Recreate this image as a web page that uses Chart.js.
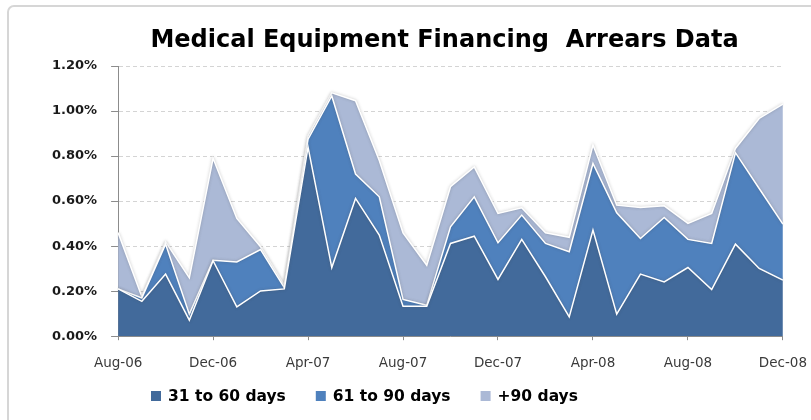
<!DOCTYPE html>
<html>
<head>
<meta charset="utf-8">
<script src="https://cdn.jsdelivr.net/npm/chart.js@4"></script>
<style>
  html, body { margin: 0; padding: 0; background: #ffffff; overflow: hidden; }
  #c { display: block; }
</style>
</head>
<body>
<canvas id="c" width="811" height="420"></canvas>
<script>
const chartTitle = 'Medical Equipment Financing  Arrears Data';

const months = [
  'Aug-06','Sep-06','Oct-06','Nov-06','Dec-06','Jan-07','Feb-07','Mar-07',
  'Apr-07','May-07','Jun-07','Jul-07','Aug-07','Sep-07','Oct-07','Nov-07',
  'Dec-07','Jan-08','Feb-08','Mar-08','Apr-08','May-08','Jun-08','Jul-08',
  'Aug-08','Sep-08','Oct-08','Nov-08','Dec-08'
];

const seriesNames = ['31 to 60 days', '61 to 90 days', '+90 days'];

// values in percent
const days31to60 = [0.21,0.155,0.276,0.071,0.335,0.13,0.201,0.21,0.84,0.305,0.612,0.449,0.133,0.133,0.412,0.444,0.252,0.43,0.264,0.086,0.471,0.098,0.276,0.241,0.305,0.207,0.409,0.301,0.249];
const days61to90 = [0.0,0.015,0.133,0.027,0.002,0.2,0.184,0.006,0.035,0.762,0.108,0.17,0.03,0.004,0.074,0.175,0.163,0.108,0.148,0.289,0.296,0.45,0.158,0.286,0.125,0.205,0.406,0.355,0.249];
const days90plus = [0.25,0.005,0.01,0.161,0.453,0.193,0.012,0.011,0.015,0.014,0.326,0.161,0.296,0.178,0.178,0.133,0.13,0.032,0.047,0.064,0.082,0.034,0.138,0.052,0.071,0.133,0.019,0.311,0.533];

const yTicks = [0, 0.2, 0.4, 0.6, 0.8, 1.0, 1.2];

const colors = ['#426a9b', '#4f81bd', '#abb9d6'];

const textPlugin = {
  id: 'textPlugin',
  beforeDraw(chart) {
    // outer chart frame (only top and left edges are inside the picture)
    const ctx = chart.ctx;
    ctx.save();
    ctx.fillStyle = '#ffffff';
    ctx.fillRect(0, 0, chart.width, chart.height);
    ctx.strokeStyle = '#d6d6d6';
    ctx.lineWidth = 2;
    ctx.beginPath();
    ctx.moveTo(8, chart.height + 2);
    ctx.lineTo(8, 13);
    ctx.arcTo(8, 6, 15, 6, 6);
    ctx.lineTo(chart.width + 2, 6);
    ctx.stroke();
    ctx.restore();
  },
  beforeDatasetDraw(chart) {
    const ctx = chart.ctx;
    ctx.save();
    ctx.shadowColor = 'rgba(70,70,70,0.35)';
    ctx.shadowBlur = 3;
  },
  afterDatasetDraw(chart) {
    chart.ctx.restore();
  },
  afterDraw(chart) {
    const ctx = chart.ctx;
    ctx.save();
    // title
    ctx.fillStyle = '#000000';
    ctx.font = 'bold 24px "DejaVu Sans"';
    ctx.textAlign = 'center';
    ctx.textBaseline = 'alphabetic';
    const ca = chart.chartArea;
    ctx.fillText(chartTitle, (ca.left + ca.right) / 2 - 6, 47);
    // legend
    ctx.font = 'bold 15.5px "DejaVu Sans"';
    ctx.textAlign = 'left';
    ctx.textBaseline = 'middle';
    let x = 151;
    const yc = 396;
    chart.data.datasets.forEach((ds) => {
      ctx.fillStyle = ds.backgroundColor;
      ctx.fillRect(x, yc - 5, 10, 10);
      ctx.fillStyle = '#000000';
      ctx.fillText(ds.label, x + 17, yc + 1);
      x += 17 + ctx.measureText(ds.label).width + 30;
    });
    ctx.restore();
  }
};

const tickCol = (c) => (c.index % 4 === 0 ? '#8c8c8c' : 'rgba(0,0,0,0)');

new Chart(document.getElementById('c'), {
  type: 'line',
  data: {
    labels: months,
    datasets: [
      { label: seriesNames[0], data: days31to60, backgroundColor: colors[0], fill: 'origin' },
      { label: seriesNames[1], data: days61to90, backgroundColor: colors[1], fill: '-1' },
      { label: seriesNames[2], data: days90plus, backgroundColor: colors[2], fill: '-1' }
    ]
  },
  options: {
    responsive: false,
    animation: false,
    devicePixelRatio: 1,
    layout: { padding: { left: 38, right: 28, top: 66, bottom: 34 } },
    elements: {
      point: { radius: 0, hoverRadius: 0 },
      line: { borderColor: '#ffffff', borderWidth: 1.5, tension: 0 }
    },
    plugins: {
      legend: { display: false },
      title: { display: false },
      tooltip: { enabled: false }
    },
    scales: {
      x: {
        offset: false,
        border: { display: true, color: '#8c8c8c' },
        grid: { drawOnChartArea: false, drawTicks: true, tickLength: 4, color: tickCol, tickColor: tickCol },
        ticks: {
          autoSkip: false, maxRotation: 0, minRotation: 0, padding: 4,
          color: '#3a3a3a',
          font: { family: '"DejaVu Sans"', size: 13.5, lineHeight: 2.8 },
          callback: function (v, i) { return i % 4 === 0 ? this.getLabelForValue(v) : ''; }
        }
      },
      y: {
        stacked: true,
        min: 0, max: 1.2,
        afterBuildTicks: (s) => { s.ticks = yTicks.map(v => ({ value: v })); },
        border: { display: true, color: '#8c8c8c', dash: [4, 3] },
        grid: { color: '#d4d4d4', tickBorderDash: [], tickColor: '#8c8c8c', tickLength: 7 },
        ticks: {
          padding: 14,
          color: '#1a1a1a',
          font: { family: '"DejaVu Sans"', size: 13, weight: 'bold' },
          callback: (v) => v.toFixed(2) + '%'
        }
      }
    }
  },
  plugins: [textPlugin]
});
</script>
</body>
</html>
